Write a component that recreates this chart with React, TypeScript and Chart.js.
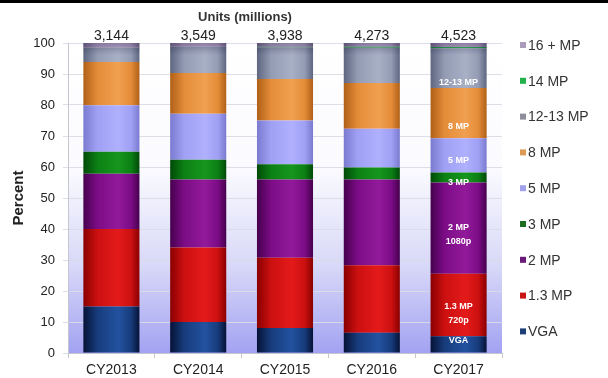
import { useEffect, useRef } from 'react';
import { Chart, registerables } from 'chart.js';

Chart.register(...registerables);

// Shipments by camera resolution, share of units per year (percent)
const years = ['CY2013', 'CY2014', 'CY2015', 'CY2016', 'CY2017'];
const unitsMillions = [3144, 3549, 3938, 4273, 4523];

const vga = [15, 10, 8.1, 6.5, 5.4];
const mp1_3 = [25, 24, 22.6, 21.8, 20.2];
const mp2 = [17.8, 22, 25.3, 27.7, 29.4];
const mp3 = [7.1, 6.3, 4.9, 3.8, 3.2];
const mp5 = [15, 14.9, 14.1, 12.5, 11.1];
const mp8 = [14, 13.1, 13.4, 14.8, 16.2];
const mp12_13 = [4.6, 8.5, 10.2, 11.4, 12.8];
const mp14 = [0, 0, 0.2, 0.3, 0.4];
const mp16plus = [1.5, 1.2, 1.2, 1.2, 1.3];

const percentTicks = { min: 0, max: 100, step: 10 };

const FONT = '"Liberation Sans", Arial, sans-serif';
const BAR_PCT = 0.646;

type Series = {
  label: string;
  data: number[];
  dark: string;
  light: string;
  mid: string;
  swatch: string;
};

// bottom-to-top stacking order
const series: Series[] = [
  { label: 'VGA', data: vga, dark: '#061236', light: '#2352a0', mid: '#173c7c', swatch: '#1c3f78' },
  { label: '1.3 MP', data: mp1_3, dark: '#8a0000', light: '#e41a1a', mid: '#cc1010', swatch: '#c81414' },
  { label: '2 MP', data: mp2, dark: '#46004e', light: '#921a9a', mid: '#7c0c86', swatch: '#6a1a78' },
  { label: '3 MP', data: mp3, dark: '#004a08', light: '#16961e', mid: '#0c8014', swatch: '#1a6e22' },
  { label: '5 MP', data: mp5, dark: '#7a7ad0', light: '#b0b0ff', mid: '#a0a0f4', swatch: '#a2a2ea' },
  { label: '8 MP', data: mp8, dark: '#b06018', light: '#f0a050', mid: '#e48c38', swatch: '#dc9a52' },
  { label: '12-13 MP', data: mp12_13, dark: '#5e6680', light: '#a8b0c6', mid: '#949cb4', swatch: '#8e8e9c' },
  { label: '14 MP', data: mp14, dark: '#108a30', light: '#30c050', mid: '#22b044', swatch: '#22b048' },
  { label: '16 + MP', data: mp16plus, dark: '#7a6a90', light: '#c8b4dc', mid: '#b8a2cc', swatch: '#aa9cba' },
];

// text drawn inside the CY2017 column
const insideLabels = [
  { series: '12-13 MP', lines: ['12-13 MP'], rise: 0.13 },
  { series: '8 MP', lines: ['8 MP'], rise: 0.23 },
  { series: '5 MP', lines: ['5 MP'], rise: 0.35 },
  { series: '3 MP', lines: ['3 MP'], rise: 0.0 },
  { series: '2 MP', lines: ['2 MP', '1080p'], rise: 0.43 },
  { series: '1.3 MP', lines: ['1.3 MP', '720p'], rise: 0.37 },
  { series: 'VGA', lines: ['VGA'], rise: 0.72 },
];

function barFill(c: any, s: Series) {
  const chart = c.chart;
  const xs = chart.scales && chart.scales.x;
  if (c.type !== 'data' || !xs || !isFinite(xs.width) || xs.width <= 0) return s.mid;
  const cx = xs.getPixelForValue(c.dataIndex);
  const w = (xs.width / years.length) * BAR_PCT;
  if (!isFinite(cx)) return s.mid;
  const g = chart.ctx.createLinearGradient(cx - w / 2, 0, cx + w / 2, 0);
  g.addColorStop(0, s.dark);
  g.addColorStop(0.25, s.mid);
  g.addColorStop(0.62, s.light);
  g.addColorStop(0.85, s.mid);
  g.addColorStop(1, s.dark);
  return g;
}

const plotBackground = {
  id: 'plotBackground',
  beforeDatasetsDraw() {},
  beforeDraw(chart: any) {
    const { ctx, chartArea: a } = chart;
    const g = ctx.createLinearGradient(0, a.top, 0, a.bottom);
    g.addColorStop(0, '#ffffff');
    g.addColorStop(0.4, '#fbfbff');
    g.addColorStop(0.72, '#d8d8f8');
    g.addColorStop(1, '#a2a2f2');
    ctx.save();
    ctx.fillStyle = g;
    ctx.fillRect(a.left, a.top, a.right - a.left, a.bottom - a.top);
    ctx.restore();
  },
};

const annotations = {
  id: 'annotations',
  afterDatasetsDraw(chart: any) {
    const { ctx, chartArea: a } = chart;
    const xs = chart.scales.x;
    const ys = chart.scales.y;
    const w = (xs.width / years.length) * BAR_PCT;
    const top = ys.getPixelForValue(percentTicks.max);

    ctx.save();
    // darker rim at the top of each column
    years.forEach((_, i) => {
      const cx = xs.getPixelForValue(i);
      const g = ctx.createLinearGradient(0, top, 0, top + 12);
      g.addColorStop(0, 'rgba(30,30,60,0.35)');
      g.addColorStop(1, 'rgba(30,30,60,0)');
      ctx.fillStyle = g;
      ctx.fillRect(cx - w / 2, top, w, 12);
    });

    // unit totals above the columns
    ctx.fillStyle = '#222';
    ctx.font = `14px ${FONT}`;
    ctx.textAlign = 'center';
    ctx.textBaseline = 'middle';
    years.forEach((_, i) => {
      ctx.fillText(unitsMillions[i].toLocaleString('en-US'), xs.getPixelForValue(i), a.top - 7);
    });

    // segment names inside the last column
    const last = years.length - 1;
    ctx.fillStyle = '#ffffff';
    ctx.font = `bold 9px ${FONT}`;
    insideLabels.forEach((lab) => {
      const dsIndex = series.findIndex((s) => s.label === lab.series);
      const el = chart.getDatasetMeta(dsIndex).data[last];
      if (!el) return;
      const yc = el.base - lab.rise * (el.base - el.y);
      const n = lab.lines.length;
      lab.lines.forEach((t, k) => {
        ctx.fillText(t, el.x, yc + (k - (n - 1) / 2) * 14);
      });
    });
    ctx.restore();
  },
  afterDraw(chart: any) {
    const { ctx, chartArea: a, width } = chart;
    ctx.save();
    // frame line along the top edge
    ctx.fillStyle = '#000';
    ctx.fillRect(0, 0, width, 3);

    // chart title
    ctx.fillStyle = '#333';
    ctx.font = `bold 13px ${FONT}`;
    ctx.textAlign = 'center';
    ctx.textBaseline = 'middle';
    ctx.fillText('Units (millions)', 245, 17);

    // legend, top entry first
    ctx.font = `14px ${FONT}`;
    ctx.textAlign = 'left';
    const lx = a.right + 18;
    const ly = a.top + 2;
    const step = 35.8;
    [...series].reverse().forEach((s, k) => {
      const y = ly + k * step;
      ctx.fillStyle = s.swatch;
      ctx.fillRect(lx, y - 3, 6, 6);
      ctx.fillStyle = '#333';
      ctx.fillText(s.label, lx + 8, y + 1);
    });
    ctx.restore();
  },
};

export default function App() {
  const canvasRef = useRef<HTMLCanvasElement | null>(null);

  useEffect(() => {
    const canvas = canvasRef.current;
    if (!canvas) return;
    const chart = new Chart(canvas, {
      type: 'bar',
      data: {
        labels: years,
        datasets: series.map((s) => ({
          label: s.label,
          data: s.data,
          backgroundColor: (c: any) => barFill(c, s),
          borderWidth: 0,
          categoryPercentage: 1,
          barPercentage: BAR_PCT,
          stack: 'share',
        })),
      },
      options: {
        responsive: false,
        animation: false,
        layout: { padding: { top: 43, right: 106, bottom: 0, left: 0 } },
        plugins: {
          legend: { display: false },
          tooltip: { enabled: false },
          title: { display: false },
        },
        scales: {
          x: {
            stacked: true,
            afterFit: (s: any) => {
              s.height = 25;
            },
            grid: {
              display: true,
              drawOnChartArea: false,
              drawTicks: true,
              tickLength: 5,
              color: '#c6c6d0',
              offset: true,
            },
            border: { color: '#c6c6d0' },
            ticks: {
              color: '#222',
              padding: 4,
              font: { family: FONT, size: 14 },
            },
          },
          y: {
            stacked: true,
            min: percentTicks.min,
            max: percentTicks.max,
            afterFit: (s: any) => {
              s.width = 68;
            },
            grid: {
              color: 'rgba(218,218,230,0.9)',
              tickLength: 5,
            },
            border: { color: '#c6c6d0' },
            ticks: {
              stepSize: percentTicks.step,
              color: '#222',
              padding: 8,
              font: { family: FONT, size: 13 },
            },
            title: {
              display: true,
              text: 'Percent',
              color: '#222',
              padding: { top: 10, bottom: 0 },
              font: { family: FONT, size: 15, weight: 'bold' },
            },
          },
        },
      },
      plugins: [plotBackground, annotations],
    });
    return () => chart.destroy();
  }, []);

  return (
    <div style={{ position: 'fixed', left: 0, top: 0, width: 608, height: 378, background: '#fff' }}>
      <canvas ref={canvasRef} width={608} height={378} style={{ display: 'block' }} />
    </div>
  );
}
